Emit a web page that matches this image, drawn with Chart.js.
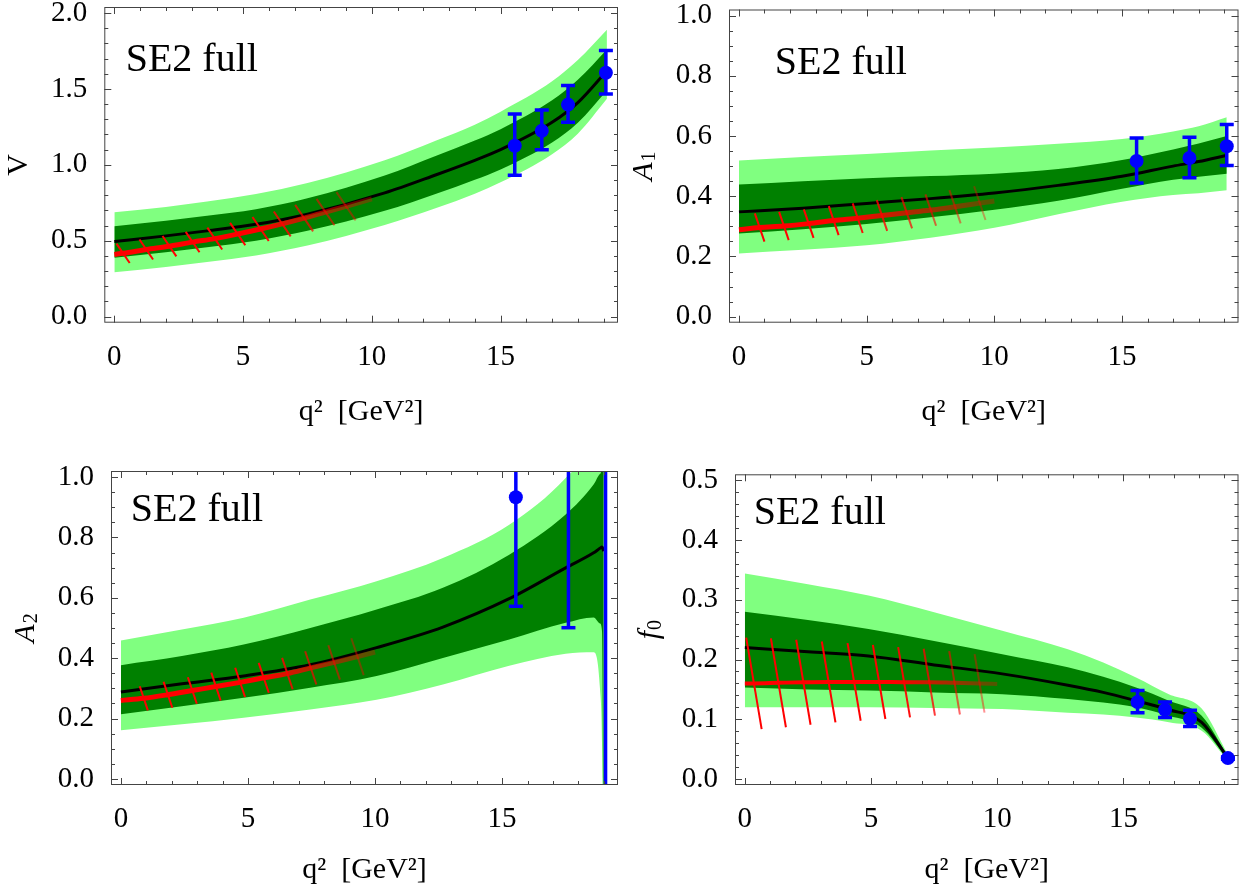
<!DOCTYPE html>
<html>
<head>
<meta charset="utf-8">
<title>SE2 full form factors</title>
<script src="https://cdn.jsdelivr.net/npm/chart.js@4.4.1/dist/chart.umd.min.js"></script>
<style>
  body { margin: 0; background: #fff; }
  #page { position: relative; width: 1251px; height: 896px; overflow: hidden; }
  #page canvas { position: absolute; }
</style>
</head>
<body>
<div id="page">
  <canvas id="chartV"></canvas>
  <canvas id="chartA1"></canvas>
  <canvas id="chartA2"></canvas>
  <canvas id="chartF0"></canvas>
</div>
<script>
const FAMILY = "'Liberation Serif', 'Times New Roman', serif";
const LIGHT = '#80ff80';
const DARK = '#008000';
const BLUE = '#0000ff';

// q^2 axis
const qTicks = [0, 5, 10, 15];

// ---- V ----
const vTicks = [0, 0.5, 1.0, 1.5, 2.0];
const vQ     = [0, 2, 3.6, 5.5, 7.5, 10.5, 12.5, 14, 15, 17, 18, 19.13];
const vMid   = [0.495, 0.532, 0.565, 0.608, 0.675, 0.815, 0.935, 1.03, 1.10, 1.28, 1.41, 1.62];
const vInHi  = [0.595, 0.632, 0.665, 0.708, 0.78, 0.93, 1.06, 1.16, 1.235, 1.425, 1.56, 1.76];
const vInLo  = [0.388, 0.424, 0.457, 0.50, 0.565, 0.697, 0.81, 0.902, 0.97, 1.147, 1.277, 1.49];
const vOutHi = [0.687, 0.722, 0.758, 0.808, 0.88, 1.03, 1.16, 1.265, 1.35, 1.55, 1.69, 1.89];
const vOutLo = [0.292, 0.327, 0.36, 0.403, 0.468, 0.603, 0.715, 0.81, 0.885, 1.07, 1.205, 1.435];
const vLcsrQ   = [0, 0.34, 1.24, 2.14, 3.04, 3.9, 4.79, 5.68, 6.52, 7.37, 8.2, 9.0, 10];
const vLcsr    = [0.41, 0.417, 0.442, 0.464, 0.491, 0.514, 0.544, 0.577, 0.611, 0.649, 0.689, 0.727, 0.776];
const vLcsrErr = [null, 0.064, 0.066, 0.067, 0.067, 0.072, 0.074, 0.079, 0.082, 0.087, 0.087, 0.093, null];
const vLatQ  = [15.55, 16.6, 17.62, 19.09];
const vLat   = [1.126, 1.224, 1.397, 1.607];
const vLatLo = [0.931, 1.10, 1.28, 1.466];
const vLatHi = [1.335, 1.362, 1.523, 1.754];

// ---- A1 ----
const a1Ticks = [0, 0.2, 0.4, 0.6, 0.8, 1.0];
const a1Q     = [0, 2.5, 5, 7.5, 10, 12.5, 15, 17, 18, 19.1];
const a1Mid   = [0.348, 0.36, 0.376, 0.392, 0.411, 0.436, 0.466, 0.50, 0.515, 0.536];
const a1InHi  = [0.439, 0.45, 0.46, 0.467, 0.475, 0.49, 0.52, 0.555, 0.575, 0.60];
const a1InLo  = [0.276, 0.29, 0.308, 0.33, 0.355, 0.385, 0.425, 0.455, 0.465, 0.475];
const a1OutHi = [0.519, 0.53, 0.54, 0.552, 0.562, 0.574, 0.59, 0.615, 0.632, 0.662];
const a1OutLo = [0.21, 0.222, 0.237, 0.262, 0.295, 0.34, 0.382, 0.404, 0.41, 0.42];
const a1LcsrQ   = [0, 0.81, 1.76, 2.73, 3.71, 4.65, 5.6, 6.57, 7.51, 8.46, 9.43, 10];
const a1Lcsr    = [0.289, 0.296, 0.301, 0.309, 0.319, 0.327, 0.336, 0.345, 0.354, 0.365, 0.377, 0.384];
const a1LcsrErr = [null, 0.047, 0.047, 0.0475, 0.048, 0.049, 0.051, 0.052, 0.052, 0.055, 0.056, null];
const a1LatQ  = [15.57, 17.64, 19.1];
const a1Lat   = [0.517, 0.527, 0.566];
const a1LatLo = [0.444, 0.461, 0.502];
const a1LatHi = [0.593, 0.596, 0.638];

// ---- A2 ----
const a2Ticks = [0, 0.2, 0.4, 0.6, 0.8, 1.0];
const a2Q     = [0, 2.4, 4.83, 7.45, 10.06, 12.67, 15.28, 17.5, 18.6, 18.85, 18.93, 19.0];
const a2Mid   = [0.288, 0.315, 0.341, 0.378, 0.435, 0.503, 0.597, 0.699, 0.749, 0.764, 0.768, 0.755];
const a2InHi  = [0.377, 0.407, 0.445, 0.50, 0.561, 0.633, 0.743, 0.876, 0.975, 1.01, 1.05, 2.0];
const a2InLo  = [0.214, 0.241, 0.269, 0.302, 0.341, 0.401, 0.462, 0.517, 0.535, 0.515, 0.49, -0.5];
const a2OutHi = [0.459, 0.495, 0.534, 0.594, 0.655, 0.732, 0.842, 0.997, 1.12, 1.2, 1.3, 2.0];
const a2OutLo = [0.161, 0.181, 0.203, 0.23, 0.262, 0.313, 0.375, 0.415, 0.42, 0.30, 0.12, -0.5];
const a2LcsrQ   = [0, 0.9, 1.85, 2.81, 3.74, 4.69, 5.62, 6.55, 7.47, 8.39, 9.31, 10];
const a2Lcsr    = [0.26, 0.267, 0.279, 0.293, 0.306, 0.320, 0.335, 0.349, 0.368, 0.386, 0.405, 0.42];
const a2LcsrErr = [null, 0.040, 0.043, 0.044, 0.046, 0.0485, 0.0496, 0.052, 0.055, 0.057, 0.061, null];
const a2LatQ  = [15.54, 17.61, 19.07];
const a2Lat   = [0.933, 1.1, 1.5];
const a2LatLo = [0.572, 0.501, -1.0];
const a2LatHi = [1.29, 1.7, 4.0];

// ---- f0 ----
const f0Ticks = [0, 0.1, 0.2, 0.3, 0.4, 0.5];
const f0Q     = [0, 2.5, 4.9, 7.5, 10.2, 12.8, 14.2, 15.5, 16.8, 18.1, 19.13];
const f0Mid   = [0.220, 0.213, 0.206, 0.191, 0.176, 0.157, 0.145, 0.131, 0.116, 0.095, 0.036];
const f0InHi  = [0.280, 0.266, 0.251, 0.231, 0.209, 0.187, 0.171, 0.153, 0.131, 0.106, 0.039];
const f0InLo  = [0.153, 0.150, 0.148, 0.145, 0.142, 0.134, 0.128, 0.120, 0.106, 0.086, 0.033];
const f0OutHi = [0.344, 0.326, 0.307, 0.279, 0.248, 0.217, 0.195, 0.170, 0.142, 0.118, 0.042];
const f0OutLo = [0.120, 0.120, 0.120, 0.119, 0.117, 0.111, 0.108, 0.103, 0.095, 0.081, 0.031];
const f0LcsrQ   = [0, 0.36, 1.33, 2.32, 3.32, 4.33, 5.32, 6.31, 7.31, 8.31, 9.3, 10];
const f0Lcsr    = [0.160, 0.160, 0.161, 0.162, 0.1625, 0.1625, 0.1625, 0.162, 0.162, 0.161, 0.160, 0.159];
const f0LcsrErr = [null, 0.0766, 0.0744, 0.0711, 0.0677, 0.065, 0.062, 0.0588, 0.056, 0.053, 0.049, null];
const f0LatQ  = [15.56, 16.65, 17.64, 19.14];
const f0Lat   = [0.129, 0.116, 0.101, 0.035];
const f0LatLo = [0.111, 0.103, 0.088, 0.033];
const f0LatHi = [0.148, 0.129, 0.115, 0.037];

const Q_MIN = -0.39, Q_MAX = 19.56;
const SLASH_TILT = 4;   // slash half-width in q^2 per unit of error

Chart.defaults.font.family = FAMILY;
Chart.defaults.color = '#000';

const panels = [
  { id: 'chartV', box: [0, 0, 625, 430], area: [104.3, 5, 620, 322.7],
    yMin: -0.04, yMax: 2.04, yTicks: vTicks, yMinor: 0.1,
    q: vQ, mid: vMid, inHi: vInHi, inLo: vInLo, outHi: vOutHi, outLo: vOutLo,
    lq: vLcsrQ, lf: vLcsr, le: vLcsrErr, fade: 5.5, redW: 5,
    latQ: vLatQ, lat: vLat, latLo: vLatLo, latHi: vLatHi,
    tag: [0.44, 1.618], yTitle: ['V', ''], italic: false },
  { id: 'chartA1', box: [625, 0, 626, 430], area: [729, 9.5, 1238.5, 322.7],
    yMin: -0.02, yMax: 1.02, yTicks: a1Ticks, yMinor: 0.05,
    q: a1Q, mid: a1Mid, inHi: a1InHi, inLo: a1InLo, outHi: a1OutHi, outLo: a1OutLo,
    lq: a1LcsrQ, lf: a1Lcsr, le: a1LcsrErr, fade: 4, redW: 5,
    latQ: a1LatQ, lat: a1Lat, latLo: a1LatLo, latHi: a1LatHi,
    tag: [1.40, 0.807], yTitle: ['A', '1'], italic: true },
  { id: 'chartA2', box: [0, 440, 625, 448], area: [111, 471, 620, 785],
    yMin: -0.02, yMax: 1.02, yTicks: a2Ticks, yMinor: 0.05,
    q: a2Q, mid: a2Mid, inHi: a2InHi, inLo: a2InLo, outHi: a2OutHi, outLo: a2OutLo,
    lq: a2LcsrQ, lf: a2Lcsr, le: a2LcsrErr, fade: 5.5, redW: 5,
    latQ: a2LatQ, lat: a2Lat, latLo: a2LatLo, latHi: a2LatHi,
    tag: [0.39, 0.853], yTitle: ['A', '2'], italic: true },
  { id: 'chartF0', box: [625, 440, 626, 448], area: [735, 474.3, 1238.5, 785],
    yMin: -0.01, yMax: 0.51, yTicks: f0Ticks, yMinor: 0.02,
    q: f0Q, mid: f0Mid, inHi: f0InHi, inLo: f0InLo, outHi: f0OutHi, outLo: f0OutLo,
    lq: f0LcsrQ, lf: f0Lcsr, le: f0LcsrErr, fade: 6, redW: 4,
    latQ: f0LatQ, lat: f0Lat, latLo: f0LatLo, latHi: f0LatHi,
    tag: [0.35, 0.4276], yTitle: ['f', '0'], italic: true }
];

function pts(xs, ys) {
  return xs.map((x, i) => ({ x: x, y: ys[i] }));
}

function redAlpha(q, from) {
  if (q <= from) return 1;
  return Math.max(0.3, 1 - 0.7 * (q - from) / (10 - from));
}

function slashPts(q, f, err) {
  const out = [];
  q.forEach((x, i) => {
    const e = err[i];
    if (e == null) return;
    out.push({ x: x - SLASH_TILT * e, y: f[i] + e });
    out.push({ x: x + SLASH_TILT * e, y: f[i] - e });
    out.push({ x: x, y: null });
  });
  return out;
}

function band(data, color, order, fill) {
  return {
    data: data, borderColor: 'transparent', borderWidth: 0, backgroundColor: color,
    pointRadius: 0, fill: fill, order: order, cubicInterpolationMode: 'monotone'
  };
}

function line(a, b, c, d, ctx) {
  ctx.beginPath(); ctx.moveTo(a, b); ctx.lineTo(c, d); ctx.stroke();
}

function decor(p) {
  return {
    id: 'decor',
    afterDatasetsDraw(chart) {
      const ctx = chart.ctx, a = chart.chartArea;
      const xs = chart.scales.x, ys = chart.scales.y;

      // error bars on the lattice points
      ctx.save();
      ctx.beginPath();
      ctx.rect(a.left, a.top, a.right - a.left, a.bottom - a.top);
      ctx.clip();
      ctx.strokeStyle = BLUE;
      ctx.lineWidth = 3.5;
      p.latQ.forEach((q, i) => {
        const px = xs.getPixelForValue(q);
        const lo = ys.getPixelForValue(p.latLo[i]);
        const hi = ys.getPixelForValue(p.latHi[i]);
        line(px, lo, px, hi, ctx);
        line(px - 7, lo, px + 7, lo, ctx);
        line(px - 7, hi, px + 7, hi, ctx);
      });
      ctx.restore();

      // frame and inward ticks
      ctx.save();
      ctx.strokeStyle = '#444';
      ctx.lineWidth = 1;
      ctx.strokeRect(a.left + 0.5, a.top + 0.5, a.right - a.left - 1, a.bottom - a.top - 1);
      for (let i = 0; i <= 19; i++) {
        const px = Math.round(xs.getPixelForValue(i)) + 0.5;
        const len = i % 5 === 0 ? 7 : 4;
        line(px, a.bottom, px, a.bottom - len, ctx);
        line(px, a.top, px, a.top + len, ctx);
      }
      const major = p.yTicks[1] - p.yTicks[0];
      const n = Math.round(p.yTicks[p.yTicks.length - 1] / p.yMinor);
      for (let j = 0; j <= n; j++) {
        const v = j * p.yMinor;
        const r = v / major;
        const len = Math.abs(r - Math.round(r)) < 1e-6 ? 7 : 4;
        const py = Math.round(ys.getPixelForValue(v)) + 0.5;
        line(a.left, py, a.left + len, py, ctx);
        line(a.right, py, a.right - len, py, ctx);
      }

      // panel tag
      ctx.fillStyle = '#000';
      ctx.font = '40px ' + FAMILY;
      ctx.textAlign = 'left';
      ctx.textBaseline = 'alphabetic';
      ctx.fillText('SE2 full', xs.getPixelForValue(p.tag[0]), ys.getPixelForValue(p.tag[1]));

      // y-axis title, rotated, with subscript
      ctx.translate(a.left - 87, (a.top + a.bottom) / 2);
      ctx.rotate(-Math.PI / 2);
      const mainFont = (p.italic ? 'italic ' : '') + '30px ' + FAMILY;
      const subFont = '20px ' + FAMILY;
      ctx.font = mainFont;
      const w1 = ctx.measureText(p.yTitle[0]).width;
      ctx.font = subFont;
      const w2 = p.yTitle[1] ? ctx.measureText(p.yTitle[1]).width + 1 : 0;
      const x0 = -(w1 + w2) / 2;
      ctx.font = mainFont;
      ctx.fillText(p.yTitle[0], x0, 10);
      if (p.yTitle[1]) {
        ctx.font = subFont;
        ctx.fillText(p.yTitle[1], x0 + w1 + 1, 13);
      }
      ctx.restore();
    }
  };
}

function makeChart(p) {
  const cv = document.getElementById(p.id);
  const [cl, ct, cw, ch] = p.box;
  const [al, at, ar, ab] = p.area;
  cv.width = cw;
  cv.height = ch;
  cv.style.left = cl + 'px';
  cv.style.top = ct + 'px';
  cv.style.width = cw + 'px';
  cv.style.height = ch + 'px';
  const yW = al - cl;
  const xH = ct + ch - ab;

  const noPad = s => { s.paddingLeft = 0; s.paddingRight = 0; s.paddingTop = 0; s.paddingBottom = 0; };

  const redStroke = c => {
    const chart = c.chart;
    if (!chart.chartArea) return 'rgb(255,0,0)';
    const xs = chart.scales.x;
    const x1 = xs.getPixelForValue(p.fade), x2 = xs.getPixelForValue(10);
    const g = chart.ctx.createLinearGradient(x1, 0, x2, 0);
    g.addColorStop(0, 'rgba(255,0,0,1)');
    g.addColorStop(1, 'rgba(255,0,0,0.3)');
    return g;
  };

  new Chart(cv, {
    type: 'line',
    data: {
      datasets: [
        band(pts(p.q, p.outHi), LIGHT, 10, '+1'),
        band(pts(p.q, p.outLo), LIGHT, 10, false),
        band(pts(p.q, p.inHi), DARK, 9, '+1'),
        band(pts(p.q, p.inLo), DARK, 9, false),
        {
          data: pts(p.q, p.mid), borderColor: '#000', borderWidth: 3, pointRadius: 0,
          fill: false, order: 5, cubicInterpolationMode: 'monotone'
        },
        {
          data: pts(p.lq, p.lf), borderColor: redStroke, borderWidth: p.redW, pointRadius: 0,
          fill: false, order: 4, borderCapStyle: 'butt', cubicInterpolationMode: 'monotone'
        },
        {
          data: slashPts(p.lq, p.lf, p.le), borderWidth: 2, pointRadius: 0, fill: false,
          order: 3, spanGaps: false, borderColor: 'rgb(255,0,0)',
          segment: {
            borderColor: s => 'rgba(255,0,0,' + redAlpha((s.p0.parsed.x + s.p1.parsed.x) / 2, p.fade) + ')'
          }
        },
        {
          data: pts(p.latQ, p.lat), showLine: false, pointRadius: 7, pointHoverRadius: 7,
          pointBackgroundColor: BLUE, pointBorderWidth: 0, borderColor: BLUE, order: 1
        }
      ]
    },
    options: {
      responsive: false,
      animation: false,
      devicePixelRatio: 1,
      events: [],
      layout: { padding: { left: 0, top: at - ct, right: cl + cw - ar, bottom: 0 } },
      plugins: { legend: { display: false }, tooltip: { enabled: false } },
      scales: {
        x: {
          type: 'linear', min: Q_MIN, max: Q_MAX,
          grid: { display: false }, border: { display: false },
          ticks: {
            autoSkip: false, maxRotation: 0, padding: 9, color: '#000',
            font: { family: FAMILY, size: 29 }, callback: v => String(v)
          },
          afterBuildTicks: s => { s.ticks = qTicks.map(v => ({ value: v })); },
          afterFit: s => { s.height = xH; noPad(s); },
          title: {
            display: true, text: 'q²  [GeV²]', color: '#000',
            font: { family: FAMILY, size: 30 }, padding: 0
          }
        },
        y: {
          type: 'linear', min: p.yMin, max: p.yMax,
          grid: { display: false }, border: { display: false },
          ticks: {
            autoSkip: false, padding: 9, color: '#000',
            font: { family: FAMILY, size: 29 }, callback: v => v.toFixed(1)
          },
          afterBuildTicks: s => { s.ticks = p.yTicks.map(v => ({ value: v })); },
          afterFit: s => { s.width = yW; noPad(s); }
        }
      }
    },
    plugins: [decor(p)]
  });
}

panels.forEach(makeChart);
</script>
</body>
</html>
